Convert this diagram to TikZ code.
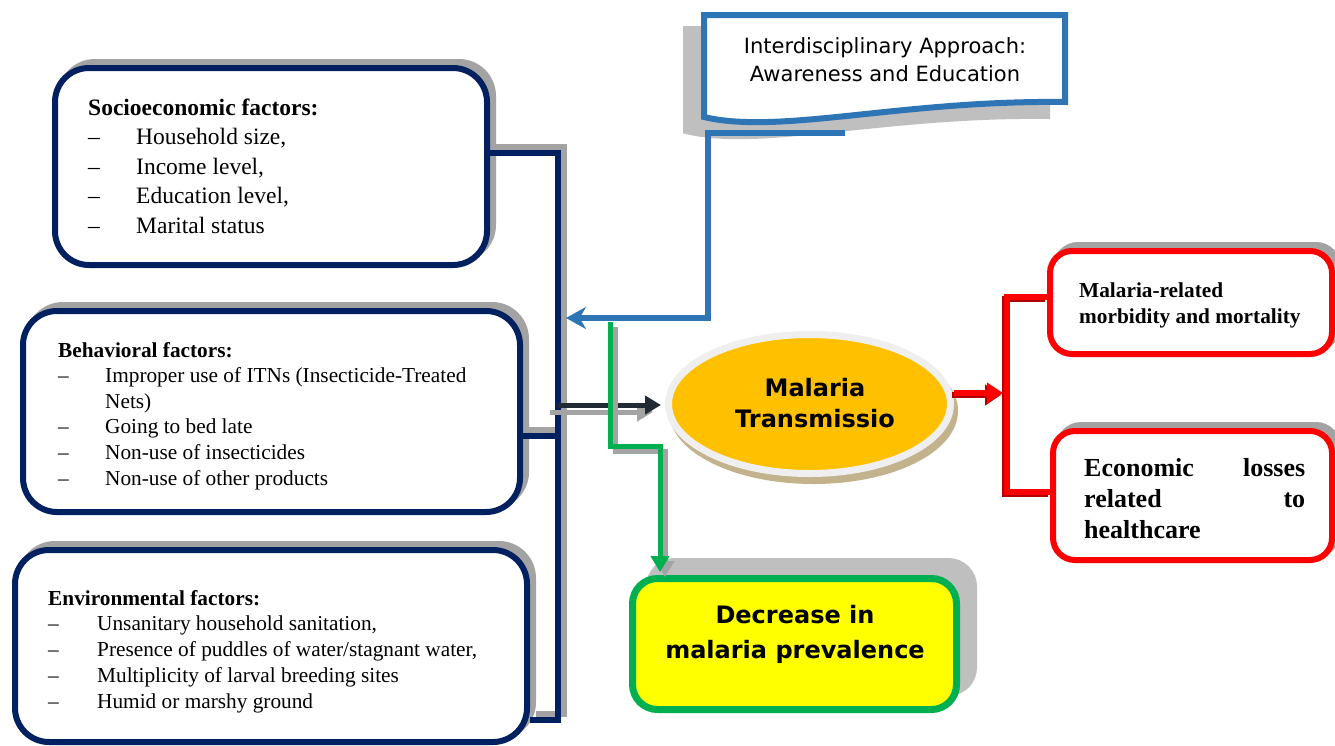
\documentclass[tikz,border=0pt]{standalone}
\usepackage{fontspec}
\setmainfont{Liberation Serif}
\newfontfamily\sansdv{DejaVu Sans}
\usepackage{array}
\usetikzlibrary{arrows.meta,shapes.geometric}
\definecolor{navy}{HTML}{002060}
\definecolor{myblue}{HTML}{2E75B6}
\definecolor{mygreen}{HTML}{00B050}
\definecolor{myred}{HTML}{FF0000}
\definecolor{darkred}{HTML}{B00000}
\definecolor{shadowgray}{HTML}{A3A3A3}
\definecolor{lightshadow}{HTML}{BFBFBF}
\definecolor{orangefill}{HTML}{FFC000}
\definecolor{ellborder}{HTML}{EFEFEF}
\definecolor{ellshadow}{HTML}{C2B38C}
\definecolor{darkarrow}{HTML}{222A35}
\definecolor{yellowfill}{HTML}{FFFF00}
\begin{document}
\begin{tikzpicture}[x=1pt,y=-1pt,
  fbox/.style={rectangle, draw=navy, line width=6pt, fill=white, rounded corners=34pt, inner sep=0pt,
    preaction={draw=shadowgray, fill=shadowgray, line width=6pt, transform canvas={xshift=6pt,yshift=6pt}}},
  rbox/.style={rectangle, draw=myred, line width=6pt, fill=white, rounded corners=22pt, inner sep=0pt,
    preaction={draw=shadowgray, fill=shadowgray, line width=6pt, transform canvas={xshift=6pt,yshift=6pt}}},
  txt/.style={inner sep=0pt, anchor=base west},
  ctxt/.style={inner sep=0pt, anchor=base},
  navyline/.style={draw=navy, line width=6pt,
    preaction={draw=shadowgray, line width=6pt, transform canvas={xshift=6pt,yshift=6pt}}},
  darkline/.style={draw=darkarrow, line width=5pt,
    preaction={draw=shadowgray, line width=5pt, transform canvas={xshift=-8pt,yshift=-7pt}}},
  greenline/.style={draw=mygreen, line width=5pt,
    preaction={draw=shadowgray, line width=5pt, transform canvas={xshift=5pt,yshift=-5pt}}},
  blueline/.style={draw=myblue, line width=6pt},
  redline/.style={draw=myred, line width=6pt,
    preaction={draw=darkred, line width=6pt, transform canvas={xshift=-2pt,yshift=-2pt}}}
]
\useasboundingbox (0,0) rectangle (1335,745);
\clip (0,0) rectangle (1335,745);
\fill[white] (0,0) rectangle (1335,745);

% factor boxes
\node[fbox, minimum width=432pt, minimum height=197pt] (soc) at (271,166.5) {};
\node[fbox, minimum width=497pt, minimum height=201pt] (beh) at (271.5,411.5) {};
\node[fbox, minimum width=512pt, minimum height=192pt] (env) at (271,646) {};

\node[txt, font=\fontsize{23.5}{29.5}\selectfont] (soct) at (88,115)
 {\begin{tabular}[t]{@{}p{48pt}@{}l@{}}
  \multicolumn{2}{@{}l@{}}{\bfseries Socioeconomic factors:}\\
  \textendash & Household size,\\
  \textendash & Income level,\\
  \textendash & Education level,\\
  \textendash & Marital status
 \end{tabular}};

\node[txt, font=\fontsize{21.3}{25.6}\selectfont] (beht) at (58,357)
 {\begin{tabular}[t]{@{}p{47pt}@{}l@{}}
  \multicolumn{2}{@{}l@{}}{\bfseries Behavioral factors:}\\
  \textendash & Improper use of ITNs (Insecticide-Treated\\
   & Nets)\\
  \textendash & Going to bed late\\
  \textendash & Non-use of insecticides\\
  \textendash & Non-use of other products
 \end{tabular}};

\node[txt, font=\fontsize{21.3}{25.8}\selectfont] (envt) at (48,605)
 {\begin{tabular}[t]{@{}p{49pt}@{}l@{}}
  \multicolumn{2}{@{}l@{}}{\bfseries Environmental factors:}\\
  \textendash & Unsanitary household sanitation,\\
  \textendash & Presence of puddles of water/stagnant water,\\
  \textendash & Multiplicity of larval breeding sites\\
  \textendash & Humid or marshy ground
 \end{tabular}};

% document shape
\draw[myblue, line width=6pt, fill=white,
  preaction={fill=lightshadow, draw=lightshadow, line width=6pt, transform canvas={xshift=-18pt,yshift=-14pt}}]
  (704,15) -- (1065,15) -- (1065,102) .. controls (900,100) and (780,135) .. (704,117) -- cycle;
\node[ctxt, font=\sansdv\fontsize{21}{28.5}\selectfont] (doct) at (885,53)
 {\begin{tabular}[t]{@{}c@{}}Interdisciplinary Approach:\\Awareness and Education\end{tabular}};

% ellipse
\node[ellipse, draw=ellborder, line width=7pt, fill=orangefill, minimum width=282pt, minimum height=139pt, inner sep=0pt,
  preaction={fill=ellshadow, draw=ellshadow, line width=7pt, transform canvas={xshift=4pt,yshift=-7pt}}] (ell) at (809.5,404) {};
\node[ctxt, font=\sansdv\bfseries\fontsize{24}{31}\selectfont] (ellt) at (815,396)
 {\begin{tabular}[t]{@{}c@{}}Malaria\\Transmissio\end{tabular}};

% red boxes
\node[rbox, minimum width=282pt, minimum height=103pt] (r1) at (1191,302.5) {};
\node[rbox, minimum width=279pt, minimum height=129pt] (r2) at (1192.5,495.5) {};
\node[txt, font=\bfseries\fontsize{21.3}{26}\selectfont] (r1t) at (1079,297)
 {\begin{tabular}[t]{@{}l@{}}Malaria-related\\morbidity and mortality\end{tabular}};
\node[txt, font=\bfseries\fontsize{26}{31}\selectfont] (r2t) at (1084,476)
 {\begin{tabular}[t]{@{}l@{}}\hbox to 221pt{Economic\hfill losses}\\\hbox to 221pt{related\hfill to}\\healthcare\end{tabular}};

% yellow box
\node[rectangle, draw=mygreen, line width=7pt, fill=yellowfill, rounded corners=25pt, inner sep=0pt,
  minimum width=324pt, minimum height=131pt,
  preaction={fill=lightshadow, draw=lightshadow, line width=7pt, transform canvas={xshift=17pt,yshift=17pt}}] (yel) at (794.5,644) {};
\node[ctxt, font=\sansdv\bfseries\fontsize{24}{35}\selectfont] (yelt) at (795,623)
 {\begin{tabular}[t]{@{}c@{}}Decrease in\\malaria prevalence\end{tabular}};

% navy bracket
\coordinate (nt) at (558,153);
\coordinate (nb) at (558,720);
\coordinate (nm) at (558,436);
\coordinate (na) at (558,405);
\draw[navyline] (soc.east |- nt) -- (nt) -- (nb) -- (env.east |- nb)
  (beh.east |- nm) -- (nm);
\draw[darkline, -{Triangle[length=16pt,width=18pt]}] (na) -- ([xshift=-4pt]ell.west |- na);

% blue connector
\coordinate (docb) at (845,133);
\coordinate (b1) at (708,133);
\coordinate (b2) at (708,318);
\draw[blueline, -{Stealth[length=20pt,width=22pt]}] (docb) -- (b1) -- (b2) -- ([xshift=8pt]nt |- b2);

% green connector
\coordinate (gs) at (610,322);
\coordinate (gm) at (660,446);
\draw[greenline, -{Triangle[length=16pt,width=18pt]}] (gs) |- (gm) -- ([yshift=3pt]gm |- yel.north);

% red connectors
\coordinate (rj) at (1007,393);
\coordinate (rt) at (1007,297);
\coordinate (rb) at (1007,492);
\draw[redline] (r1.west |- rt) -- (rt) -- (rb) -- (r2.west |- rb);
\draw[redline, -{Triangle[length=16pt,width=20pt]}] ([yshift=11pt]ell.east) -- ([xshift=-4pt]rj);
\end{tikzpicture}
\end{document}
